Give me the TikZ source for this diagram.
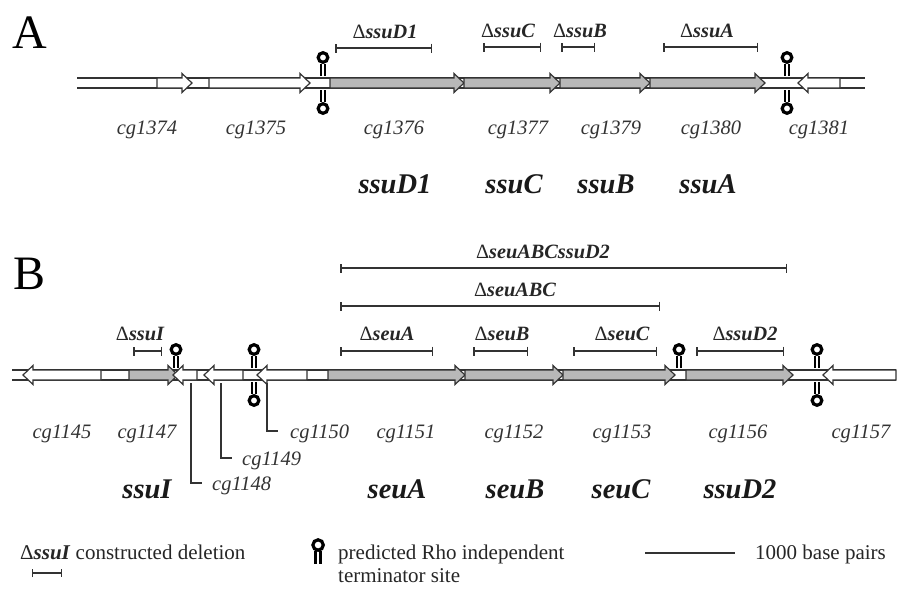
\documentclass[tikz,border=0pt]{standalone}
\usepackage{fontspec}
\setmainfont{Liberation Serif}
\usetikzlibrary{arrows.meta}
\definecolor{ink}{gray}{0.2}
\definecolor{gfill}{gray}{0.72}
\newcommand{\geneR}[4]{\draw[genebox,fill=#4] (#1,#3-5) -- (#2-10,#3-5) -- (#2-10,#3-9.5) -- (#2,#3) -- (#2-10,#3+9.5) -- (#2-10,#3+5) -- (#1,#3+5) -- cycle;}
\newcommand{\geneL}[4]{\draw[genebox,fill=#4] (#2,#3-5) -- (#1+10,#3-5) -- (#1+10,#3-9.5) -- (#1,#3) -- (#1+10,#3+9.5) -- (#1+10,#3+5) -- (#2,#3+5) -- cycle;}
\newcommand{\termU}[2]{\draw[termstem] (#1-2.1,#2-2) -- (#1-2.1,#2-14) (#1+2.1,#2-2) -- (#1+2.1,#2-14); \draw[termloop] (#1,#2-20.5) circle (4.8);}
\newcommand{\termD}[2]{\draw[termstem] (#1-2.1,#2+2) -- (#1-2.1,#2+14) (#1+2.1,#2+2) -- (#1+2.1,#2+14); \draw[termloop] (#1,#2+20.5) circle (4.8);}
\newcommand{\dl}[1]{{\normalfont\mdseries\upshape Δ}#1}
\begin{document}
\begin{tikzpicture}[x=1pt,y=-1pt,
  track/.style={line width=2pt, draw=ink},
  genebox/.style={line width=1.2pt, draw=ink, line join=miter},
  termstem/.style={line width=2.7pt, draw=black},
  termloop/.style={line width=3.2pt, draw=black},
  delbar/.style={line width=1.5pt, draw=ink, {Bar[width=9pt,line width=1.5pt]}-{Bar[width=9pt,line width=1.5pt]}},
  cglab/.style={font=\fontsize{20.5}{24}\selectfont\itshape, text=black!80, inner sep=0pt, anchor=base},
  glab/.style={font=\fontsize{28.5}{32}\selectfont\bfseries\itshape, text=black!90, inner sep=0pt, anchor=base},
  dlab/.style={font=\fontsize{20.3}{22}\selectfont\bfseries\itshape, text=black!85, inner sep=0pt, anchor=base},
  leglab/.style={font=\fontsize{21}{24}\selectfont, text=black!85, inner sep=0pt, anchor=base west},
  panel/.style={font=\fontsize{48}{52}\selectfont, inner sep=0pt, anchor=base},
  leader/.style={line width=1.3pt, draw=ink}]
\useasboundingbox[fill=white] (0,0) rectangle (898,589);

% ---------- Panel A ----------
\node[panel] (pA) at (30,48) {A};
\draw[track] (77,78) -- (865,78) (77,88) -- (865,88);
\geneR{157}{192}{83}{white}
\geneR{209}{310}{83}{white}
\geneR{330}{464}{83}{gfill}
\geneR{464}{560}{83}{gfill}
\geneR{560}{650}{83}{gfill}
\geneR{650}{765}{83}{gfill}
\geneL{798}{840}{83}{white}
\termU{323}{78}\termD{323}{88}
\termU{787}{78}\termD{787}{88}

\draw[delbar] (335,48) -- (432,48);
\draw[delbar] (483,47) -- (541,47);
\draw[delbar] (561,47) -- (595,47);
\draw[delbar] (663,47) -- (758,47);
\node[dlab] (dA1) at (385,38) {\dl{ssuD1}};
\node[dlab] (dA2) at (508,37) {\dl{ssuC}};
\node[dlab] (dA3) at (580,37) {\dl{ssuB}};
\node[dlab] (dA4) at (707,37) {\dl{ssuA}};

\node[cglab] (c1374) at (147,134) {cg1374};
\node[cglab] (c1375) at (256,134) {cg1375};
\node[cglab] (c1376) at (394,134) {cg1376};
\node[cglab] (c1377) at (518,134) {cg1377};
\node[cglab] (c1379) at (611,134) {cg1379};
\node[cglab] (c1380) at (711,134) {cg1380};
\node[cglab] (c1381) at (819,134) {cg1381};

\node[glab] (gD1) at (395,193) {ssuD1};
\node[glab] (gC) at (514,193) {ssuC};
\node[glab] (gB) at (606,193) {ssuB};
\node[glab] (gA) at (708,193) {ssuA};

% ---------- Panel B ----------
\node[panel] (pB) at (30,289) {B};
\draw[track] (12,370) -- (896,370) (12,380) -- (896,380);
\geneL{23}{101}{375}{white}
\geneR{129}{178}{375}{gfill}
\geneL{173}{197}{375}{white}
\geneL{204}{243}{375}{white}
\geneL{257}{307}{375}{white}
\geneR{328}{465}{375}{gfill}
\geneR{465}{563}{375}{gfill}
\geneR{563}{675}{375}{gfill}
\geneR{686}{793}{375}{gfill}
\geneL{823}{896}{375}{white}
\termU{176}{370}
\termU{254}{370}\termD{254}{380}
\termU{679}{370}
\termU{817}{370}\termD{817}{380}

\draw[delbar] (340,268) -- (787,268);
\node[dlab] (dB0) at (543,258) {\dl{seuABCssuD2}};
\draw[delbar] (340,306) -- (660,306);
\node[dlab] (dB1) at (515,296) {\dl{seuABC}};
\draw[delbar] (133,351) -- (162,351);
\draw[delbar] (340,351) -- (433,351);
\draw[delbar] (473,351) -- (528,351);
\draw[delbar] (573,351) -- (657,351);
\draw[delbar] (696,351) -- (784,351);
\node[dlab] (dI) at (140,340) {\dl{ssuI}};
\node[dlab] (dsA) at (387,340) {\dl{seuA}};
\node[dlab] (dsB) at (502,340) {\dl{seuB}};
\node[dlab] (dsC) at (622,340) {\dl{seuC}};
\node[dlab] (dD2) at (745,340) {\dl{ssuD2}};

\node[cglab] (c1145) at (62,438) {cg1145};
\node[cglab] (c1147) at (147,438) {cg1147};
\node[cglab] (c1151) at (406,438) {cg1151};
\node[cglab] (c1152) at (514,438) {cg1152};
\node[cglab] (c1153) at (622,438) {cg1153};
\node[cglab] (c1156) at (738,438) {cg1156};
\node[cglab] (c1157) at (861,438) {cg1157};
\node[cglab, anchor=base west] (c1150) at (290,438) {cg1150};
\node[cglab, anchor=base west] (c1149) at (242,465) {cg1149};
\node[cglab, anchor=base west] (c1148) at (212,490) {cg1148};
\coordinate (t1148) at (191,383);
\coordinate (t1149) at (221,383);
\coordinate (t1150) at (267,383);
\draw[leader] (t1148) |- ([xshift=-10pt,yshift=7pt]c1148.base west);
\draw[leader] (t1149) |- ([xshift=-10pt,yshift=7pt]c1149.base west);
\draw[leader] (t1150) |- ([xshift=-12pt,yshift=7pt]c1150.base west);

\node[glab] (gI) at (147,498) {ssuI};
\node[glab] (gsA) at (397,498) {seuA};
\node[glab] (gsB) at (515,498) {seuB};
\node[glab] (gsC) at (621,498) {seuC};
\node[glab] (gD2) at (740,498) {ssuD2};

% ---------- Legend ----------
\node[leglab] (l1) at (20,559) {Δ\textbf{\textit{ssuI}} constructed deletion};
\draw[line width=1.4pt, draw=ink, {Bar[width=8pt,line width=1.4pt]}-{Bar[width=8pt,line width=1.4pt]}] (32,573) -- (62,573);
\draw[termstem] (315.8,551) -- (315.8,564) (320.4,551) -- (320.4,564);
\draw[termloop] (318.1,545) circle (5.2);
\node[leglab] (l2a) at (338,559) {predicted Rho independent};
\node[leglab] (l2b) at (338,582) {terminator site};
\coordinate (s1) at (645,553);
\coordinate (s2) at (735,553);
\draw[line width=1.8pt, draw=ink] (s1) -- (s2);
\node[leglab] (l3) at (755,559) {1000 base pairs};
\end{tikzpicture}
\end{document}
